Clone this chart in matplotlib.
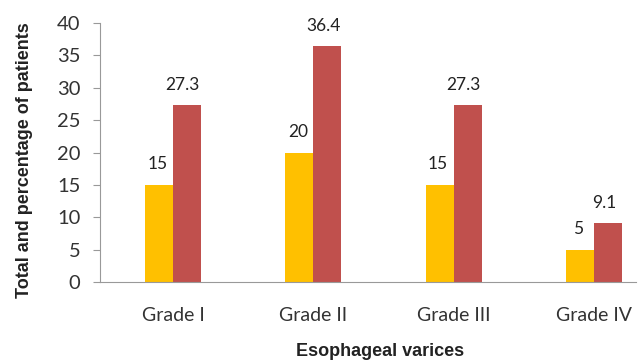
import matplotlib
matplotlib.use("Agg")
import matplotlib.pyplot as plt
import numpy as np

# data
grades = ["Grade I", "Grade II", "Grade III", "Grade IV"]
totals = [15, 20, 15, 5]
percentages = [27.3, 36.4, 27.3, 9.1]
total_labels = ["15", "20", "15", "5"]
pct_labels = ["27.3", "36.4", "27.3", "9.1"]

fig = plt.figure(figsize=(6.44, 3.61), dpi=100)
ax = fig.add_axes([100 / 644, 79 / 361, 536 / 644, 259 / 361])

x = np.arange(len(grades))
w = 0.2
b1 = ax.bar(x - w / 2, totals, w, color="#FFC000")
b2 = ax.bar(x + w / 2, percentages, w, color="#C0504D")

for rect, lab in zip(b1, total_labels):
    ax.annotate(lab, (rect.get_x() + rect.get_width() / 2, rect.get_height()),
                xytext=(-1, 9), textcoords="offset points", ha="center", va="bottom",
                fontsize=12.5, family="Lato", color="#222222")
for rect, lab in zip(b2, pct_labels):
    ax.annotate(lab, (rect.get_x() + rect.get_width() / 2, rect.get_height()),
                xytext=(-3, 9), textcoords="offset points", ha="center", va="bottom",
                fontsize=12.5, family="Lato", color="#222222")

ax.set_xlim(-0.52, 3.30)
ax.set_ylim(0, 40)
ax.set_yticks(range(0, 41, 5))
ax.set_xticks(x)
ax.set_xticklabels(grades, family="Lato", fontsize=14, color="#333333")
ax.tick_params(axis="x", length=0, pad=18)
ax.tick_params(axis="y", length=5, width=0.8, color="#999999", labelsize=14.5,
               labelcolor="#333333", pad=9)
for lbl in ax.get_yticklabels():
    lbl.set_family("Lato")

for s in ["top", "right"]:
    ax.spines[s].set_visible(False)
for s in ["left", "bottom"]:
    ax.spines[s].set_color("#999999")
    ax.spines[s].set_linewidth(0.8)

fig.text(25 / 644, 1 - 160 / 361, "Total and percentage of patients", rotation=90,
         ha="center", va="center", fontsize=13, fontweight="bold",
         family="Liberation Sans", color="#222222")
fig.text(380 / 644, 1 / 361, "Esophageal varices", ha="center", va="bottom",
         fontsize=13, fontweight="bold", family="Liberation Sans", color="#222222")

fig.savefig("out.png", dpi=100)
